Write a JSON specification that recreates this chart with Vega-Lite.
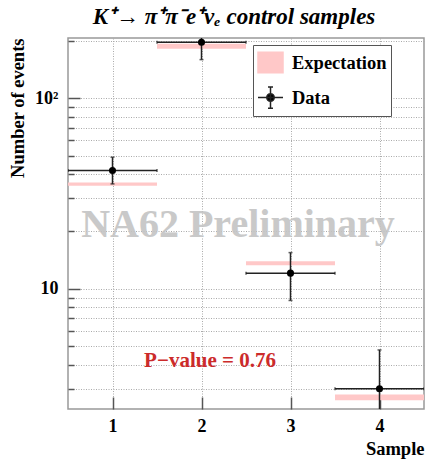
{
  "$schema": "https://vega.github.io/schema/vega-lite/v6.json",
  "width": 356,
  "height": 371,
  "autosize": "none",
  "padding": {"left": 68, "top": 38, "right": 4, "bottom": 50},
  "background": "white",
  "title": {
    "text": "K⁺→ π⁺π⁻e⁺νₑ control samples",
    "font": "Liberation Serif",
    "fontSize": 23,
    "fontWeight": "bold",
    "fontStyle": "italic",
    "color": "black",
    "anchor": "middle",
    "frame": "group",
    "dx": -12,
    "offset": 9
  },
  "config": {
    "view": {"stroke": "#999", "strokeWidth": 1.5},
    "axis": {
      "labelFont": "Liberation Serif",
      "labelFontWeight": "bold",
      "labelFontSize": 18,
      "labelColor": "black",
      "titleFont": "Liberation Serif",
      "titleFontWeight": "bold",
      "titleFontSize": 18.5,
      "titleColor": "black",
      "domain": false,
      "tickColor": "#555",
      "tickWidth": 1.5,
      "gridColor": "#aaa",
      "gridDash": [1, 1.5],
      "gridWidth": 1
    }
  },
  "data": {
    "values": [
      {"sample": 1, "xlo": 0.5, "xhi": 1.5, "value": 41.7, "lo": 35.5, "hi": 49.0, "elo": 34.7, "ehi": 36.1},
      {"sample": 2, "xlo": 1.5, "xhi": 2.5, "value": 196, "lo": 159, "hi": 235, "elo": 181.5, "ehi": 192.6},
      {"sample": 3, "xlo": 2.5, "xhi": 3.5, "value": 12.1, "lo": 8.7, "hi": 15.5, "elo": 13.3, "ehi": 13.97},
      {"sample": 4, "xlo": 3.5, "xhi": 4.5, "value": 3.0, "lo": 1.3, "hi": 4.79, "elo": 2.61, "ehi": 2.8}
    ]
  },
  "layer": [
    {
      "mark": {"type": "rect"},
      "encoding": {
        "x": {
          "field": "xlo", "type": "quantitative",
          "scale": {"domain": [0.5, 4.5], "nice": false, "zero": false},
          "axis": {
            "values": [1, 2, 3, 4], "format": "d", "tickSize": -12, "labelPadding": 20,
            "title": "Sample", "titleX": 356, "titleY": 39, "titleAlign": "right", "titleBaseline": "middle",
            "labelFlush": false
          }
        },
        "x2": {"field": "xhi"},
        "y": {
          "field": "elo", "type": "quantitative",
          "scale": {"type": "log", "domain": [2.349, 206.4], "nice": false},
          "axis": {
            "values": [3, 4, 5, 6, 7, 8, 9, 10, 20, 30, 40, 50, 60, 70, 80, 90, 100, 200],
            "tickSize": {"condition": {"test": "datum.value == 10 || datum.value == 100", "value": -12}, "value": -6},
            "labelExpr": "datum.value == 100 ? '10²' : datum.value == 10 ? '10' : ''",
            "labelPadding": 22,
            "title": "Number of events", "titleX": -51, "titleY": 0, "titleAlign": "right", "titleBaseline": "middle", "titleAngle": 270
          }
        },
        "y2": {"field": "ehi"},
        "color": {
          "datum": "Expectation",
          "scale": {"domain": ["Expectation", "Data"], "range": ["#ffc8c8", "#000000"]},
          "legend": {
            "title": null,
            "orient": "none",
            "legendX": 185,
            "legendY": 7,
            "padding": 4,
            "fillColor": "white",
            "strokeColor": "#555",
            "labelFont": "Liberation Serif",
            "labelFontSize": 18.5,
            "labelFontWeight": "bold",
            "labelColor": "black",
            "rowPadding": 7,
            "symbolSize": 625,
            "labelOffset": 8,
            "labelExpr": "datum.label + '    '",
            "encode": {
              "symbols": {
                "update": {
                  "shape": {"signal": "datum.value === 'Data' ? 'M-1,0H1M0,-0.85V0.85M-0.2,-0.85H0.2M-0.2,0.85H0.2M-0.3,0A0.3,0.3 0 1,0 0.3,0A0.3,0.3 0 1,0 -0.3,0Z' : 'M-1,-0.82H1V0.82H-1Z'"},
                  "fill": {"signal": "datum.value === 'Data' ? '#000' : '#ffc8c8'"},
                  "stroke": {"signal": "datum.value === 'Data' ? '#222' : '#ffc8c8'"},
                  "strokeWidth": {"value": 1.5},
                  "opacity": {"value": 1}
                }
              }
            }
          }
        }
      }
    },
    {
      "data": {"values": [{}]},
      "mark": {"type": "text", "text": "NA62 Preliminary", "font": "Liberation Serif", "fontWeight": "bold", "fontSize": 40, "color": "#c4c4c4", "opacity": 0.9, "align": "center", "baseline": "alphabetic"},
      "encoding": {
        "x": {"datum": 2.41, "type": "quantitative"},
        "y": {"datum": 18.8, "type": "quantitative"}
      }
    },
    {
      "mark": {"type": "rule", "color": "#222", "strokeWidth": 1.5, "clip": true},
      "encoding": {
        "x": {"field": "xlo", "type": "quantitative"},
        "x2": {"field": "xhi"},
        "y": {"field": "value", "type": "quantitative"}
      }
    },
    {
      "mark": {"type": "rule", "color": "#222", "strokeWidth": 1.5, "clip": true},
      "encoding": {
        "x": {"field": "sample", "type": "quantitative"},
        "y": {"field": "lo", "type": "quantitative"},
        "y2": {"field": "hi"}
      }
    },
    {
      "mark": {"type": "tick", "orient": "horizontal", "color": "#222", "thickness": 1.5, "size": 4, "clip": true},
      "encoding": {
        "x": {"field": "sample", "type": "quantitative"},
        "y": {"field": "hi", "type": "quantitative"}
      }
    },
    {
      "mark": {"type": "tick", "orient": "horizontal", "color": "#222", "thickness": 1.5, "size": 4, "clip": true},
      "encoding": {
        "x": {"field": "sample", "type": "quantitative"},
        "y": {"field": "lo", "type": "quantitative"}
      }
    },
    {
      "mark": {"type": "tick", "orient": "vertical", "color": "#222", "thickness": 1.5, "size": 3, "clip": true},
      "encoding": {
        "x": {"field": "xlo", "type": "quantitative"},
        "y": {"field": "value", "type": "quantitative"}
      }
    },
    {
      "mark": {"type": "tick", "orient": "vertical", "color": "#222", "thickness": 1.5, "size": 3, "clip": true},
      "encoding": {
        "x": {"field": "xhi", "type": "quantitative"},
        "y": {"field": "value", "type": "quantitative"}
      }
    },
    {
      "mark": {"type": "point", "shape": "circle", "filled": true, "size": 50, "opacity": 1},
      "encoding": {
        "x": {"field": "sample", "type": "quantitative"},
        "y": {"field": "value", "type": "quantitative"},
        "color": {"datum": "Data"}
      }
    },
    {
      "data": {"values": [{}]},
      "mark": {"type": "text", "text": "P−value = 0.76", "font": "Liberation Serif", "fontWeight": "bold", "fontSize": 21, "color": "#cc2b2b", "align": "center", "baseline": "middle"},
      "encoding": {
        "x": {"datum": 2.096, "type": "quantitative"},
        "y": {"datum": 4.2, "type": "quantitative"}
      }
    }
  ]
}
